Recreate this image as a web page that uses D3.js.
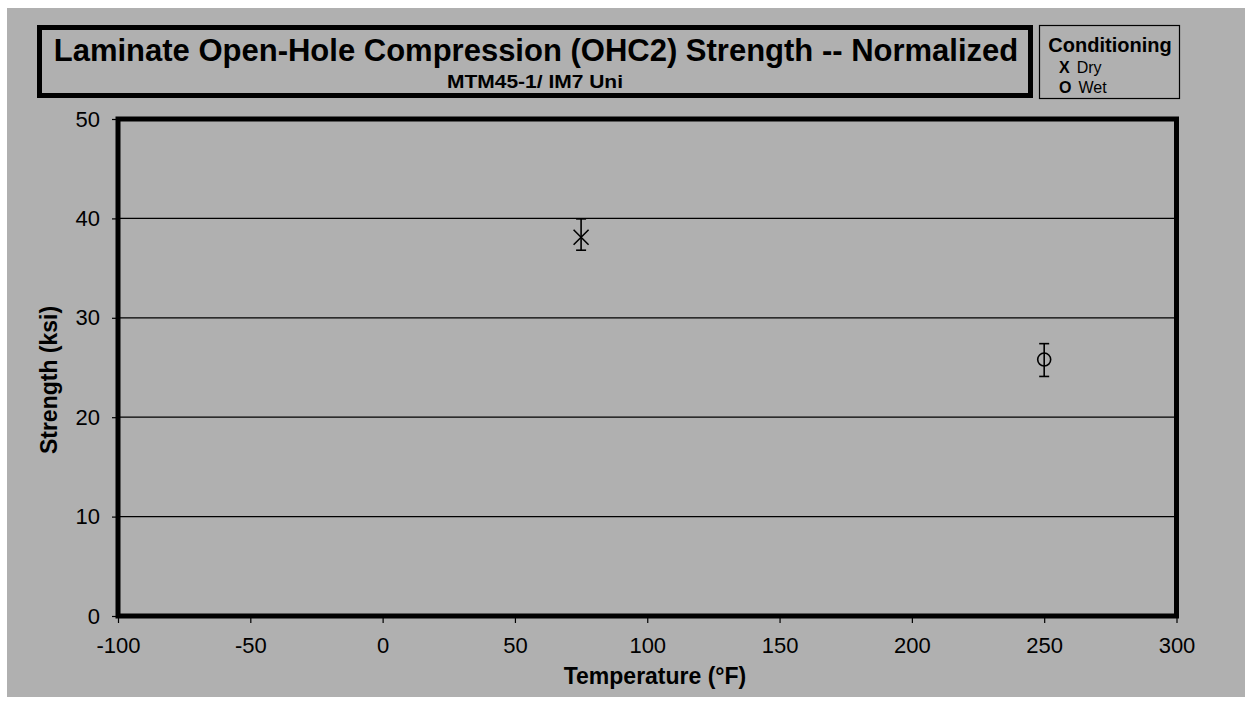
<!DOCTYPE html>
<html>
<head>
<meta charset="utf-8">
<script src="https://cdn.jsdelivr.net/npm/d3@7"></script>
<style>
  html, body { margin: 0; padding: 0; background: #ffffff; }
  svg { display: block; }
  text { font-family: "Liberation Sans", Arial, sans-serif; fill: #000; }
</style>
</head>
<body>
<svg id="chart" width="1252" height="704"></svg>
<script>
// ---- data ----
const conditions = ["Dry", "Wet"];
const legendSymbols = ["X", "O"];
const temperatures = [75, 250];
const strengthMean = [38.1, 25.8];
const strengthUpper = [39.95, 27.4];
const strengthLower = [36.8, 24.1];
const xTicks = [-100, -50, 0, 50, 100, 150, 200, 250, 300];
const yTicks = [0, 10, 20, 30, 40, 50];
const gridValues = [10, 20, 30, 40];
const chartTitle = "Laminate Open-Hole Compression (OHC2) Strength -- Normalized";
const chartSubtitle = "MTM45-1/ IM7 Uni";
const xTitle = "Temperature (°F)";
const yTitle = "Strength (ksi)";
const legendTitle = "Conditioning";

// ---- layout ----
const svg = d3.select("#chart");
const plot = { left: 118, right: 1176.5, top: 119, bottom: 616 };

svg.append("rect").attr("x", 7).attr("y", 8).attr("width", 1238).attr("height", 689)
  .attr("fill", "#b0b0b0");

const x = d3.scaleLinear().domain([-100, 300]).range([plot.left, plot.right]);
const y = d3.scaleLinear().domain([0, 50]).range([plot.bottom, plot.top]);

// gridlines
svg.append("g").selectAll("line").data(gridValues).join("line")
  .attr("x1", plot.left).attr("x2", plot.right)
  .attr("y1", d => y(d)).attr("y2", d => y(d))
  .attr("stroke", "#000").attr("stroke-width", 1.2);

// axes
const fmt = d => String(d);
const yAxis = d3.axisLeft(y).tickValues(yTicks).tickSize(6).tickPadding(12).tickFormat(fmt);
const xAxis = d3.axisBottom(x).tickValues(xTicks).tickSize(7).tickPadding(14).tickFormat(fmt);

const gy = svg.append("g").attr("transform", `translate(${plot.left},0)`).call(yAxis);
const gx = svg.append("g").attr("transform", `translate(0,${plot.bottom})`).call(xAxis);
[gx, gy].forEach(g => {
  g.select(".domain").remove();
  g.selectAll(".tick line").attr("stroke", "#000").attr("stroke-width", 1.2);
  g.selectAll(".tick text").attr("font-size", 22)
    .attr("font-family", "'Liberation Sans', Arial, sans-serif").attr("fill", "#000");
});

// plot frame
svg.append("rect")
  .attr("x", plot.left).attr("y", plot.top)
  .attr("width", plot.right - plot.left).attr("height", plot.bottom - plot.top)
  .attr("fill", "none").attr("stroke", "#000").attr("stroke-width", 5);

// error bars
const pts = temperatures.map((t, i) => ({ t, m: strengthMean[i], hi: strengthUpper[i], lo: strengthLower[i], c: conditions[i] }));
const eb = svg.append("g").attr("stroke", "#000").attr("stroke-width", 1.6).attr("fill", "none");
pts.forEach(p => {
  const cx = x(p.t);
  eb.append("line").attr("x1", cx).attr("x2", cx).attr("y1", y(p.hi)).attr("y2", y(p.lo));
  eb.append("line").attr("x1", cx - 5).attr("x2", cx + 5).attr("y1", y(p.hi)).attr("y2", y(p.hi));
  eb.append("line").attr("x1", cx - 5).attr("x2", cx + 5).attr("y1", y(p.lo)).attr("y2", y(p.lo));
  const cy = y(p.m);
  if (p.c === "Dry") {
    eb.append("path").attr("d", `M${cx - 7.5},${cy - 7.5}L${cx + 7.5},${cy + 7.5}M${cx - 7.5},${cy + 7.5}L${cx + 7.5},${cy - 7.5}`);
  } else {
    eb.append("circle").attr("cx", cx).attr("cy", cy).attr("r", 6.5);
  }
});

// title box
svg.append("rect").attr("x", 39.5).attr("y", 27.5).attr("width", 991).attr("height", 68)
  .attr("fill", "none").attr("stroke", "#000").attr("stroke-width", 5);
svg.append("text").attr("x", 536).attr("y", 61).attr("text-anchor", "middle")
  .attr("font-size", 31).attr("font-weight", "bold").text(chartTitle);
svg.append("text").attr("x", 535).attr("y", 88).attr("text-anchor", "middle")
  .attr("font-size", 19).attr("font-weight", "bold")
  .attr("textLength", 176).attr("lengthAdjust", "spacingAndGlyphs").text(chartSubtitle);

// legend box
svg.append("rect").attr("x", 1039.5).attr("y", 25.5).attr("width", 140).attr("height", 73)
  .attr("fill", "none").attr("stroke", "#000").attr("stroke-width", 1.2);
svg.append("text").attr("x", 1110).attr("y", 52).attr("text-anchor", "middle")
  .attr("font-size", 20).attr("font-weight", "bold").text(legendTitle);
conditions.forEach((c, i) => {
  const t = svg.append("text").attr("x", 1059).attr("y", 73 + i * 20).attr("font-size", 16);
  t.append("tspan").attr("font-weight", "bold").text(legendSymbols[i]);
  t.append("tspan").attr("dx", 7).text(c);
});

// axis titles
svg.append("text").attr("x", 655).attr("y", 684).attr("text-anchor", "middle")
  .attr("font-size", 23).attr("font-weight", "bold").text(xTitle);
svg.append("text").attr("transform", "translate(57,380) rotate(-90)").attr("text-anchor", "middle")
  .attr("font-size", 23).attr("font-weight", "bold").text(yTitle);
</script>
</body>
</html>
